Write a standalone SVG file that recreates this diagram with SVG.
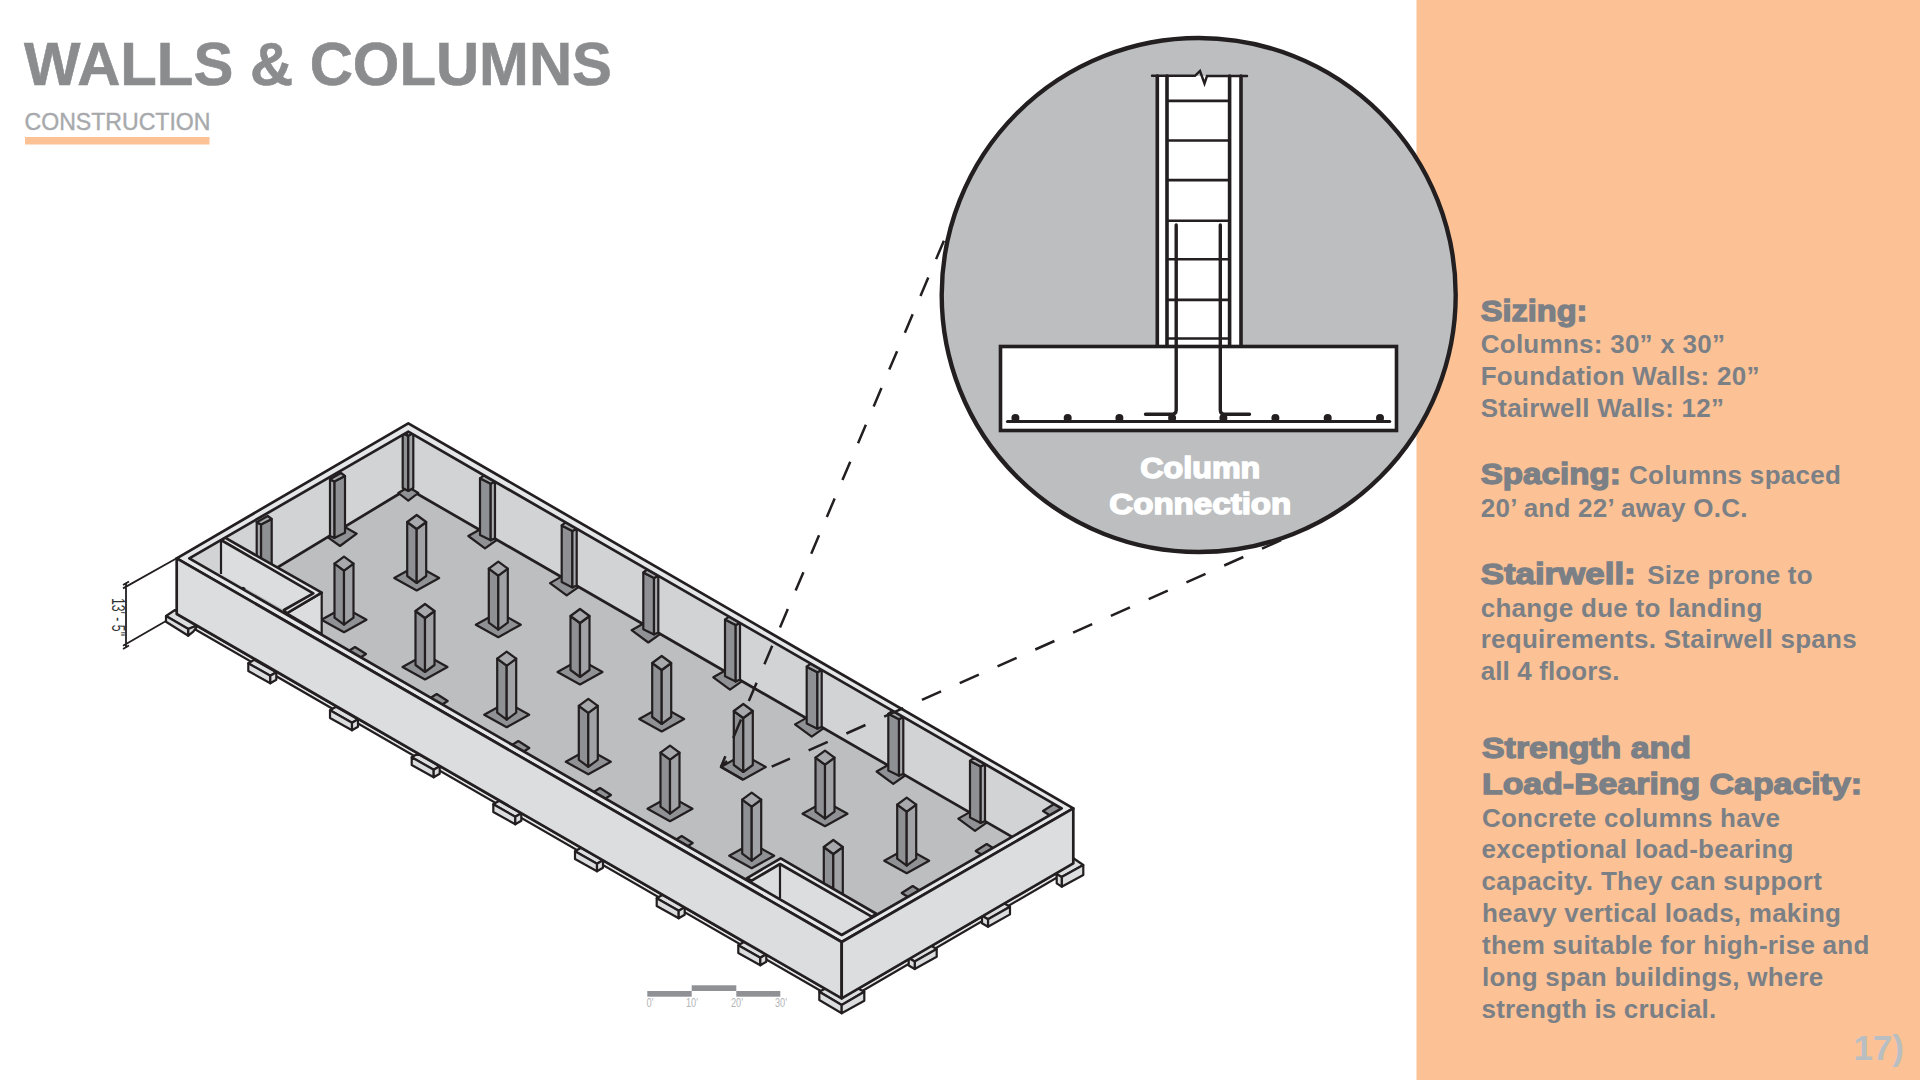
<svg xmlns="http://www.w3.org/2000/svg" xmlns:xlink="http://www.w3.org/1999/xlink" width="1920" height="1080" viewBox="0 0 1920 1080">
<style>
.k{stroke:#231f20;stroke-width:2.7;stroke-linejoin:round;stroke-linecap:round}
.t{stroke:#231f20;stroke-width:2.2;stroke-linejoin:round}
.n{fill:none}
.wall{fill:#dcddde}
.far{fill:#d1d3d4}
.cap{fill:#e6e7e8}
.floor{fill:#bcbec0}
.d1{fill:#8e9093}
.d2{fill:#a0a2a5}
.d3{fill:#a7a9ac}
.pl{fill:#8f9194}
.dash{fill:none;stroke:#231f20;stroke-width:2.5}
.r{stroke:#231f20;fill:none;stroke-linecap:round}
.b{font-family:"Liberation Sans",Arial,sans-serif;font-weight:700;font-size:26px;fill:#7b8086}
.h{font-family:"Liberation Sans",Arial,sans-serif;font-weight:700;font-size:29px;fill:#7b8086;stroke:#7b8086;stroke-width:1.3}
.s{font-family:"Liberation Sans",Arial,sans-serif;font-size:13px;fill:#b3b5b7}
</style>
<defs>
<g id="col">
<polygon class="pl t" points="0,50.5 22.5,63 0,75.5 -22.5,63"/>
<polygon class="d1 t" points="-9.5,7 0,14 0,68 -9.5,61"/>
<polygon class="d2 t" points="9.5,7 0,14 0,68 9.5,61"/>
<polygon class="d3 t" points="0,0 9.5,7 0,14 -9.5,7"/>
</g>
<g id="pil">
<polygon class="pl t" points="-11.7,57.7 0.7,50.7 16.7,61.7 5,70"/>
<polygon class="d1 t" points="0,0 10.7,5.5 10.7,62 0,56.7"/>
<polygon class="d3 t" points="10.7,5.5 15,3.3 15,60 10.7,62"/>
<polygon class="d3 t" points="0,0 4,-3 15,3.3 10.7,5.5"/>
</g>
<polygon id="pk" class="pl t" points="0,-7 11,0 0,7 -11,0"/>
<g id="ft">
<polygon class="wall t" points="0,0 22,12.5 28,9 6,-3.5"/>
<polygon class="wall t" points="0,0 22,12.5 22,20 0,7.7"/>
<polygon class="wall t" points="22,12.5 28,9 28,16.5 22,20"/>
</g>
</defs>

<rect width="1920" height="1080" fill="#fff"/>
<rect id="panel" x="1416.5" y="0" width="503.5" height="1080" fill="#fcc295"/>

<g id="title">
<text x="24" y="84.5" font-family="'Liberation Sans',Arial,sans-serif" font-weight="700" font-size="61" fill="#8a8c8e" stroke="#8a8c8e" stroke-width="0.6" textLength="588" lengthAdjust="spacingAndGlyphs">WALLS &amp; COLUMNS</text>
<text x="24.5" y="130" font-family="'Liberation Sans',Arial,sans-serif" font-size="24" fill="#a7a9ac" stroke="#a7a9ac" stroke-width="0.4" textLength="186" lengthAdjust="spacingAndGlyphs">CONSTRUCTION</text>
<rect x="25" y="137" width="184.5" height="7.5" fill="#fcc295"/>
</g>

<g id="foundation-strips">
<polygon class="cap t" points="176.7,614 841.7,998.3 841.7,1003 176.7,618.7"/>
<polygon class="cap t" points="841.7,998.3 1073.3,863.3 1073.3,868 841.7,1003"/>
</g>

<g id="footings">
<polygon class="wall t" points="166,616 175,610 198,625 188.3,629"/>
<polygon class="wall t" points="166,616 188.3,629 188.3,635.7 166,621.7"/>
<polygon class="wall t" points="188.3,629 198,625 193.3,631.7 188.3,635.7"/>
<use href="#ft" x="248.3" y="663.3"/>
<use href="#ft" x="330" y="710.3"/>
<use href="#ft" x="411.7" y="757.3"/>
<use href="#ft" x="493.3" y="804.3"/>
<use href="#ft" x="575" y="851.3"/>
<use href="#ft" x="656.7" y="898.3"/>
<use href="#ft" x="738.3" y="945.3"/>
<use href="#ft" transform="translate(936.7 949) scale(-1 1)"/>
<use href="#ft" transform="translate(1010 906.7) scale(-1 1)"/>
<polygon class="wall t" points="819.3,991.7 841.7,980 864.3,991.7 841.7,1005"/>
<polygon class="wall t" points="819.3,991.7 841.7,1005 841.7,1013.3 819.3,1000"/>
<polygon class="wall t" points="864.3,991.7 841.7,1005 841.7,1013.3 864.3,1000.7"/>
<polygon class="wall t" points="1083.3,865 1073,858 1050,872 1061.7,877"/>
<polygon class="wall t" points="1083.3,865 1061.7,877 1061.7,886.7 1083.3,875"/>
<polygon class="wall t" points="1061.7,877 1056.7,874 1056.7,883.3 1061.7,886.7"/>
</g>

<g id="interior">
<polygon class="far" points="408.3,431.7 1061.7,808.3 841.7,935 189.3,558.3"/>
<polygon class="floor" points="408,488.5 1011.7,836.7 841.7,935 241.9,589"/>
<path class="k n" d="M241.9 589 L408 488.5 L1011.7 836.7"/>
</g>

<g id="pilasters">
<g transform="translate(408.3 433)">
<polygon class="pl t" points="-10,60 0,54 10,60 0,67.7"/>
<polygon class="d1 t" points="-5.6,0 0,3 0,58 -5.6,55"/>
<polygon class="d3 t" points="-5.6,0 -3,-2 0,3"/>
<polygon class="d2 t" points="5,0 0,3 0,58 5,55"/>
</g>
<use href="#pil" x="480" y="478.3"/>
<use href="#pil" x="561.7" y="525.4"/>
<use href="#pil" x="643.3" y="572.5"/>
<use href="#pil" x="725" y="619.6"/>
<use href="#pil" x="806.7" y="666.7"/>
<use href="#pil" x="888.3" y="713.8"/>
<use href="#pil" x="970" y="760.9"/>
<use href="#pil" transform="translate(345 476) scale(-1 1)"/>
<use href="#pil" transform="translate(271.7 519) scale(-1 1)"/>
</g>

<g id="columns">
<use href="#col" x="416.7" y="515"/>
<use href="#col" x="498.3" y="561.7"/>
<use href="#col" x="580" y="609"/>
<use href="#col" x="661.7" y="656"/>
<use href="#col" x="743.3" y="704"/>
<use href="#col" x="825" y="750.7"/>
<use href="#col" x="906.7" y="797.7"/>
<use href="#col" x="344" y="556.7"/>
<use href="#col" x="425" y="604"/>
<use href="#col" x="506.7" y="651.7"/>
<use href="#col" x="588.3" y="698.8"/>
<use href="#col" x="670" y="745.7"/>
<use href="#col" x="751.7" y="792.7"/>
<use href="#col" x="833.3" y="840"/>
</g>

<g id="near-footing-stubs">
<use href="#pk" x="355" y="654"/>
<use href="#pk" x="436.7" y="701"/>
<use href="#pk" x="518.3" y="748"/>
<use href="#pk" x="600" y="795"/>
<use href="#pk" x="681.7" y="843"/>
<use href="#pk" x="986.7" y="851"/>
<use href="#pk" x="912.7" y="893"/>
<use href="#pk" x="1054" y="811"/>
</g>

<g id="stair-a">
<polygon class="far" points="189.3,558.3 221,540 221,576"/>
<polygon class="wall" points="221,540 313.3,593.3 284,610 221,574"/>
<path class="t n" d="M221 540 V574"/>
<polygon class="wall t" points="321.7,592.7 321.7,634 286.7,613.3"/>
<polygon class="cap k" points="221,540 225,537.7 321.7,592.7 286.7,613.3 284,610 313.3,593.3"/>
</g>
<g id="stair-b">
<polygon class="wall" points="751.7,880.7 780,864 780,898.3"/>
<polygon class="wall" points="780,864 871.7,916.7 841.7,935 780,898.3"/>
<path class="t n" d="M780 864 V898.3"/>
<polygon class="cap k" points="746.7,878.3 780.7,858.3 876.7,914 871.7,916.7 780,864 751.7,880.7"/>
</g>

<g id="walls">
<path class="cap k" fill-rule="evenodd" d="M176.7 558.3 L408.3 423.3 L1073.3 808.3 L841.7 942 Z M189.3 558.3 L841.7 935 L1061.7 808.3 L408.3 431.7 Z"/>
<polygon class="wall k" points="176.7,558.3 841.7,942 841.7,998.3 176.7,614"/>
<polygon class="wall k" points="841.7,942 1073.3,808.3 1073.3,863.3 841.7,998.3"/>
</g>

<g id="dimension">
<path class="n" stroke="#231f20" stroke-width="1.8" d="M126 583.3 V647.3 M123 588.4 L176.7 558.3 M123 645.7 L166 621 M123 585 L129 581.5 M123 649 L129 645.5"/>
<text transform="translate(111.5 598) rotate(90)" font-family="'Liberation Sans',Arial,sans-serif" font-size="18" fill="#333" textLength="38" lengthAdjust="spacingAndGlyphs">13' - 5"</text>
</g>

<g id="scale-bar">
<rect x="647.3" y="991" width="44.4" height="5.7" fill="#8f9194"/>
<rect x="691.7" y="985.3" width="44.6" height="5.7" fill="#8f9194"/>
<rect x="736.3" y="991" width="44" height="5.7" fill="#8f9194"/>
<text class="s" x="650" y="1007.3" text-anchor="middle" textLength="7" lengthAdjust="spacingAndGlyphs">0'</text>
<text class="s" x="692" y="1007.3" text-anchor="middle" textLength="12" lengthAdjust="spacingAndGlyphs">10'</text>
<text class="s" x="737" y="1007.3" text-anchor="middle" textLength="12" lengthAdjust="spacingAndGlyphs">20'</text>
<text class="s" x="781" y="1007.3" text-anchor="middle" textLength="12" lengthAdjust="spacingAndGlyphs">30'</text>
</g>

<g id="connectors">
<path class="dash" stroke-dasharray="20 20" d="M943.9 240.7 L721 766.7"/>
<path class="dash" stroke-dasharray="20.9 20.45" d="M1281.1 540.2 L771.7 766.7"/>
<path class="dash" d="M721 766.7 L727 761 M721 766.7 L743.3 780"/>
</g>

<g id="detail">
<circle cx="1198.7" cy="295" r="257" fill="#bcbec0" stroke="#231f20" stroke-width="4.4"/>
<rect x="1157.3" y="76" width="83.7" height="270" fill="#fff"/>
<rect x="1000.5" y="346.5" width="396" height="84" fill="#fff" stroke="#231f20" stroke-width="3.6"/>
<path class="r" stroke-width="3.6" d="M1157.3 76 V346 M1167 76 V346 M1229.6 76 V346 M1241 76 V346"/>
<path class="r" stroke-width="2.4" d="M1152 75.8 H1195 L1200 71 L1204.5 83.5 L1207 76 H1247"/>
<path class="r" stroke-width="2.6" d="M1167 100.9 H1229.6 M1167 140.5 H1229.6 M1167 180.1 H1229.6 M1167 220.8 H1229.6 M1167 259.3 H1229.6 M1167 299.9 H1229.6 M1167 338.5 H1229.6"/>
<path class="r" stroke-width="3.4" d="M1176.2 224.9 V410 Q1176.2 414.3 1171 414.3 H1145.5 M1220.3 224.9 V410 Q1220.3 414.3 1225.5 414.3 H1249.5"/>
<path class="r" stroke-width="3.2" d="M1007.5 421.5 H1389.7"/>
<g fill="#231f20">
<circle cx="1015.4" cy="418" r="4"/><circle cx="1067.7" cy="418" r="4"/><circle cx="1119.4" cy="418" r="4"/><circle cx="1172.1" cy="418" r="4"/><circle cx="1223.4" cy="418" r="4"/><circle cx="1275.4" cy="418" r="4"/><circle cx="1327.7" cy="418" r="4"/><circle cx="1380" cy="418" r="4"/>
</g>
<text x="1200.3" y="478" text-anchor="middle" font-family="'Liberation Sans',Arial,sans-serif" font-weight="700" font-size="29" fill="#fff" stroke="#fff" stroke-width="1.5" textLength="120" lengthAdjust="spacingAndGlyphs">Column</text>
<text x="1200.3" y="513.5" text-anchor="middle" font-family="'Liberation Sans',Arial,sans-serif" font-weight="700" font-size="29" fill="#fff" stroke="#fff" stroke-width="1.5" textLength="182" lengthAdjust="spacingAndGlyphs">Connection</text>
</g>

<g id="side-text">
<text class="h" x="1480.7" y="320.7" textLength="106.7" lengthAdjust="spacingAndGlyphs">Sizing:</text>
<text class="b" x="1480.7" y="352.7" textLength="244.3">Columns: 30” x 30”</text>
<text class="b" x="1480.7" y="385" textLength="278.7">Foundation Walls: 20”</text>
<text class="b" x="1480.7" y="416.7" textLength="243.3">Stairwell Walls: 12”</text>
<text class="h" x="1480.7" y="484" textLength="140" lengthAdjust="spacingAndGlyphs">Spacing:</text>
<text class="b" x="1629" y="484" textLength="212">Columns spaced</text>
<text class="b" x="1480.7" y="516.7" textLength="266.7">20’ and 22’ away O.C.</text>
<text class="h" x="1480.7" y="584" textLength="155" lengthAdjust="spacingAndGlyphs">Stairwell:</text>
<text class="b" x="1647.3" y="584" textLength="165.3">Size prone to</text>
<text class="b" x="1480.7" y="616.7" textLength="281.7">change due to landing</text>
<text class="b" x="1480.7" y="648.3" textLength="376">requirements. Stairwell spans</text>
<text class="b" x="1480.7" y="680" textLength="138.7">all 4 floors.</text>
<text class="h" x="1482" y="758.3" textLength="209" lengthAdjust="spacingAndGlyphs">Strength and</text>
<text class="h" x="1482" y="794" textLength="380" lengthAdjust="spacingAndGlyphs">Load-Bearing Capacity:</text>
<text class="b" x="1482" y="826.7" textLength="298">Concrete columns have</text>
<text class="b" x="1481.5" y="858.3" textLength="312">exceptional load-bearing</text>
<text class="b" x="1481.5" y="890.3" textLength="340.3">capacity. They can support</text>
<text class="b" x="1482" y="922.3" textLength="359">heavy vertical loads, making</text>
<text class="b" x="1482" y="954.3" textLength="387.3">them suitable for high-rise and</text>
<text class="b" x="1482" y="986" textLength="341.3">long span buildings, where</text>
<text class="b" x="1481.5" y="1018.3" textLength="234.7">strength is crucial.</text>
<text x="1904" y="1060" text-anchor="end" font-family="'Liberation Sans',Arial,sans-serif" font-weight="700" font-size="35" fill="#b9bec2">17)</text>
</g>
</svg>
